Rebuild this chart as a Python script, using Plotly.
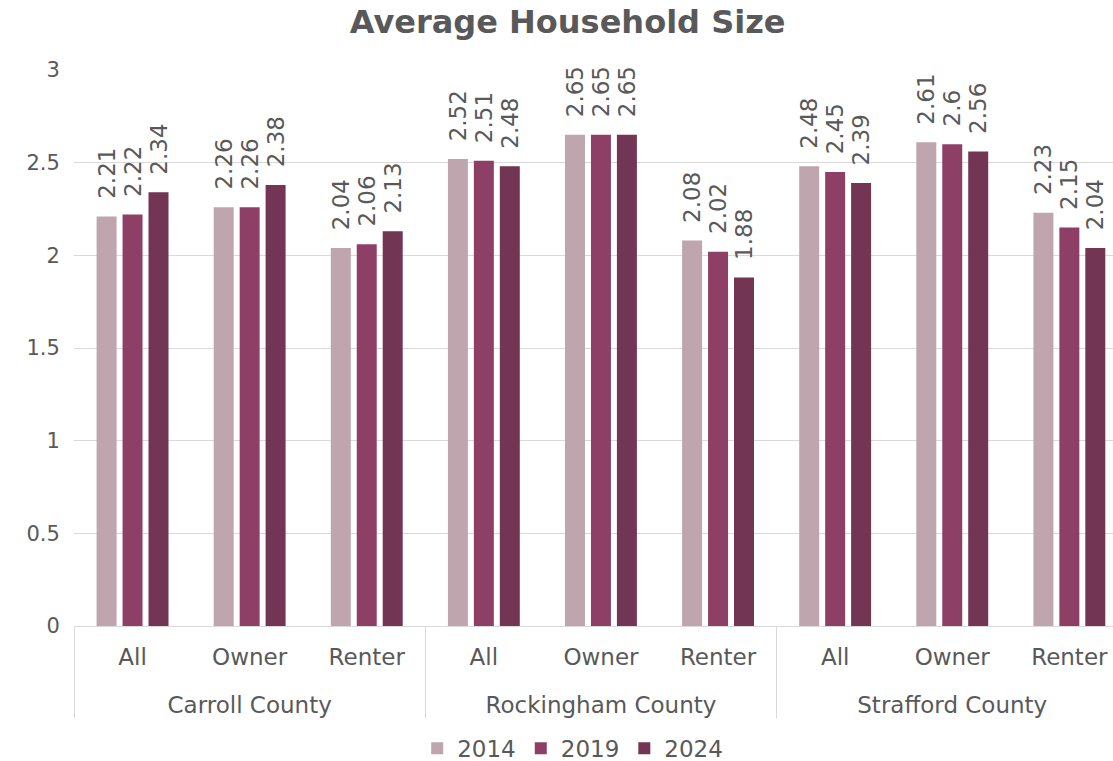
import plotly.graph_objects as go

counties = ["Carroll County", "Rockingham County", "Strafford County"]
tenures = ["All", "Owner", "Renter"]
years = ["2014", "2019", "2024"]

vals_2014 = [2.21, 2.26, 2.04, 2.52, 2.65, 2.08, 2.48, 2.61, 2.23]
vals_2019 = [2.22, 2.26, 2.06, 2.51, 2.65, 2.02, 2.45, 2.60, 2.15]
vals_2024 = [2.34, 2.38, 2.13, 2.48, 2.65, 1.88, 2.39, 2.56, 2.04]

colors = ["#BFA5AE", "#8E3F66", "#723553"]
y_ticks = [0, 0.5, 1, 1.5, 2, 2.5, 3]

outer = ["<br>" + c for c in counties for _ in tenures]
inner = [t for _ in counties for t in tenures]

TXT = "#595959"
FONT = "DejaVu Sans"

fig = go.Figure()
for yr, vals, col in zip(years, [vals_2014, vals_2019, vals_2024], colors):
    fig.add_trace(go.Bar(
        x=[outer, inner], y=vals, name=yr,
        marker=dict(color=col, line=dict(width=0)),
        texttemplate="\u00a0\u00a0%{y}", textposition="outside",
        textangle=-90, constraintext="none", cliponaxis=False,
        textfont=dict(family=FONT, size=23, color=TXT),
        hoverinfo="skip",
    ))

cat_w = 117.1
left = 74
plot_w = 1113 - left
fig.update_layout(
    width=1113, height=761, autosize=False,
    paper_bgcolor="white", plot_bgcolor="white",
    margin=dict(l=left, r=0, t=70, b=135, autoexpand=False),
    barmode="group", bargap=0.335, bargroupgap=0.23,
    font=dict(family=FONT, color=TXT),
    title=dict(text="<b>Average Household Size</b>", x=0.51, xref="container",
               xanchor="center", y=0.971, yref="container", yanchor="middle",
               font=dict(family=FONT, size=32, color=TXT)),
    legend=dict(orientation="h", x=0.48, xanchor="center",
                y=-0.22, yanchor="middle",
                font=dict(family=FONT, size=23, color=TXT),
                itemwidth=30, traceorder="normal"),
    showlegend=True,
)
fig.update_xaxes(
    type="multicategory",
    range=[-0.5, -0.5 + plot_w / cat_w],
    showgrid=False, showline=True, linecolor="#D9D9D9", linewidth=1.3,
    ticks="outside", ticklen=8, tickcolor="rgba(0,0,0,0)",
    ticklabelstandoff=10,
    showdividers=True, dividercolor="#D9D9D9", dividerwidth=1.3,
    tickfont=dict(family=FONT, size=23, color=TXT), tickangle=0,
    automargin=False,
)
fig.update_yaxes(
    range=[0, 3], tickvals=y_ticks, ticktext=[str(v) for v in y_ticks],
    showgrid=True, gridcolor="#D9D9D9", gridwidth=1.3,
    zeroline=False, showline=False,
    ticks="outside", ticklen=9, tickcolor="rgba(0,0,0,0)", automargin=False,
    tickfont=dict(family=FONT, size=21, color=TXT),
)
fig.write_html("out.html", config={"displayModeBar": False},
               post_script="document.body.style.margin='0';document.body.style.padding='0';")
